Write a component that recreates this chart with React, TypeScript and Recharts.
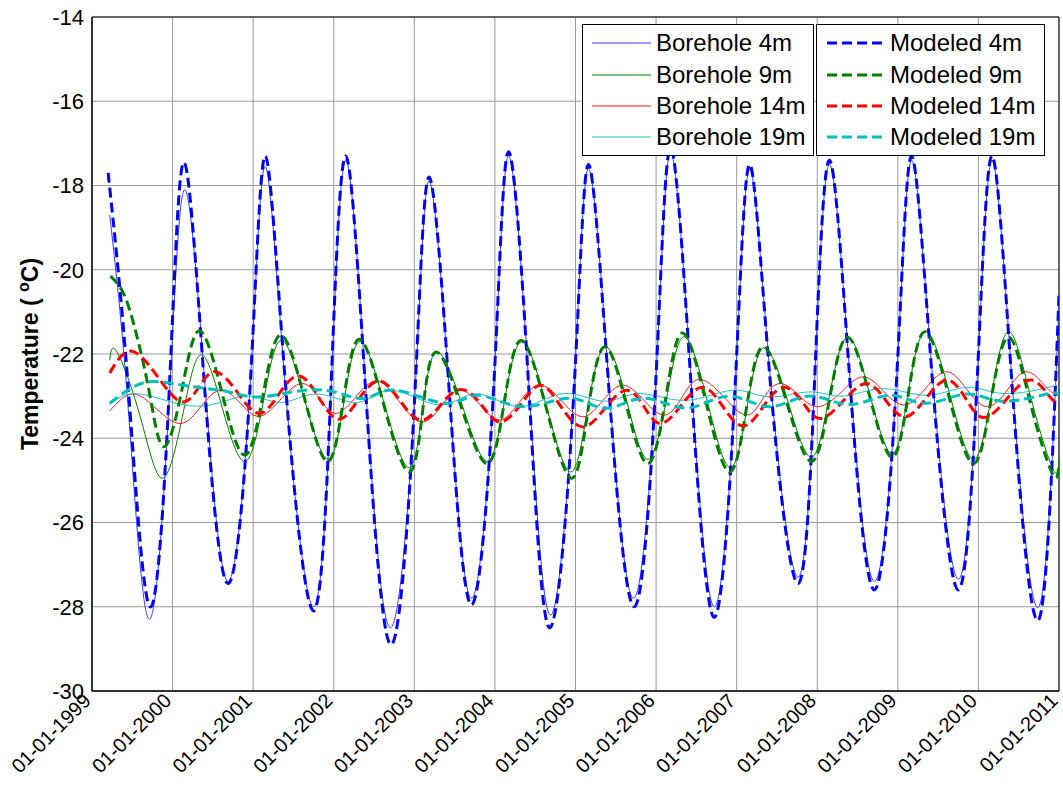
import React from "react"
import {
  LineChart,
  Line,
  XAxis,
  YAxis,
  CartesianGrid,
  ReferenceArea,
} from "recharts"

const FONT = "'Liberation Sans', Arial, Helvetica, sans-serif"

// x = decimal year, y = temperature (°C)
const years = [1999, 2000, 2001, 2002, 2003, 2004, 2005, 2006, 2007, 2008, 2009, 2010, 2011]
const tempTicks = [-30, -28, -26, -24, -22, -20, -18, -16, -14]

const borehole4m: [number, number][] = [
  [1999.22, -18.7], [1999.45, -23.3], [1999.71, -28.3], [1999.96, -23.0],
  [2000.15, -18.1], [2000.4, -22.7], [2000.69, -27.4], [2000.97, -22.5],
  [2001.15, -17.55], [2001.4, -22.8], [2001.75, -28.0], [2001.97, -22.7],
  [2002.15, -17.4], [2002.4, -22.9], [2002.7, -28.5], [2003.0, -23.2],
  [2003.18, -17.9], [2003.43, -22.8], [2003.71, -27.8], [2003.99, -22.6],
  [2004.17, -17.3], [2004.42, -22.7], [2004.69, -28.2], [2004.98, -22.8],
  [2005.16, -17.6], [2005.41, -22.6], [2005.72, -27.8], [2006.0, -22.5],
  [2006.18, -17.2], [2006.43, -22.5], [2006.72, -28.0], [2006.98, -22.8],
  [2007.16, -17.6], [2007.41, -22.4], [2007.76, -27.3], [2007.97, -22.5],
  [2008.15, -17.5], [2008.4, -22.4], [2008.71, -27.4], [2008.99, -22.4],
  [2009.17, -17.4], [2009.42, -22.3], [2009.75, -27.35], [2009.99, -22.4],
  [2010.17, -17.4], [2010.42, -22.7], [2010.75, -28.0], [2011.0, -20.8],
]

const borehole9m: [number, number][] = [
  [1999.22, -22.15], [1999.31, -21.95], [1999.6, -23.5], [1999.87, -24.95],
  [2000.12, -23.5], [2000.35, -22.02], [2000.62, -23.3], [2000.9, -24.55],
  [2001.13, -23.1], [2001.35, -21.67], [2001.64, -23.1], [2001.93, -24.5],
  [2002.13, -23.1], [2002.33, -21.7], [2002.63, -23.2], [2002.93, -24.7],
  [2003.1, -23.35], [2003.28, -21.95], [2003.6, -23.25], [2003.91, -24.55],
  [2004.12, -23.1], [2004.34, -21.7], [2004.64, -23.25], [2004.94, -24.8],
  [2005.15, -23.3], [2005.37, -21.83], [2005.64, -23.15], [2005.9, -24.5],
  [2006.13, -23.05], [2006.35, -21.59], [2006.64, -23.15], [2006.92, -24.7],
  [2007.13, -23.25], [2007.34, -21.85], [2007.64, -23.15], [2007.93, -24.45],
  [2008.15, -23.0], [2008.38, -21.6], [2008.65, -22.95], [2008.93, -24.37],
  [2009.13, -22.9], [2009.35, -21.47], [2009.65, -23.0], [2009.94, -24.5],
  [2010.16, -23.0], [2010.38, -21.47], [2010.66, -23.1], [2010.93, -24.75],
  [2011.0, -24.5],
]

const borehole14m: [number, number][] = [
  [1999.22, -23.35], [1999.5, -22.95], [1999.8, -23.3], [2000.1, -23.65],
  [2000.35, -23.25], [2000.59, -22.86], [2000.83, -23.15], [2001.07, -23.48],
  [2001.33, -23.1], [2001.6, -22.7], [2001.82, -23.05], [2002.03, -23.41],
  [2002.28, -23.0], [2002.54, -22.64], [2002.8, -23.1], [2003.08, -23.61],
  [2003.33, -23.25], [2003.56, -22.86], [2003.81, -23.2], [2004.06, -23.57],
  [2004.3, -23.15], [2004.55, -22.74], [2004.82, -23.1], [2005.09, -23.49],
  [2005.34, -23.1], [2005.59, -22.74], [2005.85, -23.1], [2006.11, -23.45],
  [2006.33, -23.0], [2006.54, -22.6], [2006.83, -23.0], [2007.12, -23.45],
  [2007.33, -23.05], [2007.54, -22.7], [2007.78, -23.0], [2008.02, -23.25],
  [2008.3, -22.9], [2008.57, -22.54], [2008.83, -22.9], [2009.09, -23.21],
  [2009.35, -22.8], [2009.61, -22.42], [2009.86, -22.85], [2010.11, -23.25],
  [2010.36, -22.85], [2010.6, -22.42], [2010.85, -22.8], [2011.0, -23.0],
]

const borehole19m: [number, number][] = [
  [1999.22, -23.19], [1999.6, -22.95], [2000.3, -23.24], [2000.9, -23.0],
  [2001.35, -23.15], [2001.8, -22.95], [2002.3, -23.15], [2002.73, -22.86],
  [2003.31, -23.21], [2003.77, -22.94], [2004.3, -23.25], [2004.84, -22.94],
  [2005.35, -23.12], [2005.79, -22.94], [2006.37, -23.1], [2006.95, -22.86],
  [2007.4, -23.02], [2007.91, -22.9], [2008.33, -23.0], [2008.82, -22.82],
  [2009.36, -22.98], [2009.86, -22.79], [2010.32, -22.94], [2010.98, -22.74],
]

const modeled4m: [number, number][] = [
  [1999.2, -17.7], [1999.45, -22.8], [1999.72, -28.0], [1999.96, -22.8],
  [2000.14, -17.45], [2000.39, -22.6], [2000.69, -27.45], [2000.97, -22.5],
  [2001.15, -17.3], [2001.4, -22.7], [2001.75, -28.1], [2001.97, -22.6],
  [2002.15, -17.3], [2002.4, -23.0], [2002.71, -28.9], [2003.0, -23.2],
  [2003.18, -17.8], [2003.43, -22.8], [2003.71, -27.95], [2003.99, -22.6],
  [2004.17, -17.2], [2004.42, -22.8], [2004.68, -28.5], [2004.98, -22.9],
  [2005.16, -17.5], [2005.41, -22.7], [2005.73, -28.0], [2006.0, -22.5],
  [2006.18, -17.1], [2006.43, -22.6], [2006.72, -28.25], [2006.98, -22.8],
  [2007.16, -17.5], [2007.41, -22.5], [2007.76, -27.45], [2007.97, -22.5],
  [2008.15, -17.4], [2008.4, -22.5], [2008.71, -27.6], [2008.99, -22.4],
  [2009.17, -17.3], [2009.42, -22.4], [2009.75, -27.6], [2009.99, -22.4],
  [2010.17, -17.3], [2010.42, -22.8], [2010.75, -28.3], [2011.0, -20.6],
]

const modeled9m: [number, number][] = [
  [1999.23, -20.15], [1999.4, -20.6], [1999.56, -21.6], [1999.72, -23.0], [1999.89, -24.2],
  [2000.11, -22.9], [2000.33, -21.45], [2000.61, -22.9], [2000.89, -24.4],
  [2001.12, -23.0], [2001.34, -21.55], [2001.63, -23.0], [2001.92, -24.55],
  [2002.12, -23.1], [2002.32, -21.65], [2002.62, -23.2], [2002.93, -24.8],
  [2003.1, -23.4], [2003.27, -21.95], [2003.59, -23.3], [2003.91, -24.6],
  [2004.12, -23.1], [2004.33, -21.68], [2004.64, -23.3], [2004.95, -24.95],
  [2005.15, -23.4], [2005.36, -21.83], [2005.63, -23.2], [2005.9, -24.6],
  [2006.12, -23.05], [2006.33, -21.5], [2006.62, -23.15], [2006.91, -24.8],
  [2007.12, -23.3], [2007.33, -21.83], [2007.63, -23.2], [2007.93, -24.55],
  [2008.15, -23.1], [2008.37, -21.6], [2008.65, -23.0], [2008.93, -24.45],
  [2009.13, -22.95], [2009.34, -21.47], [2009.64, -23.05], [2009.94, -24.6],
  [2010.16, -23.05], [2010.38, -21.6], [2010.65, -23.2], [2010.92, -24.85],
  [2011.0, -24.6],
]

const modeled14m: [number, number][] = [
  [1999.22, -22.45], [1999.48, -21.93], [1999.8, -22.5], [2000.1, -23.13],
  [2000.32, -22.8], [2000.53, -22.42], [2000.8, -22.9], [2001.07, -23.41],
  [2001.32, -22.95], [2001.57, -22.52], [2001.82, -23.05], [2002.06, -23.55],
  [2002.3, -23.1], [2002.56, -22.64], [2002.82, -23.1], [2003.08, -23.57],
  [2003.33, -23.2], [2003.58, -22.84], [2003.83, -23.2], [2004.06, -23.61],
  [2004.32, -23.2], [2004.57, -22.74], [2004.82, -23.25], [2005.09, -23.73],
  [2005.36, -23.3], [2005.63, -22.86], [2005.85, -23.25], [2006.06, -23.65],
  [2006.32, -23.2], [2006.58, -22.79], [2006.83, -23.25], [2007.08, -23.71],
  [2007.33, -23.25], [2007.58, -22.79], [2007.82, -23.15], [2008.04, -23.53],
  [2008.33, -23.1], [2008.61, -22.7], [2008.85, -23.1], [2009.09, -23.49],
  [2009.35, -23.05], [2009.61, -22.62], [2009.84, -23.05], [2010.07, -23.51],
  [2010.36, -23.05], [2010.65, -22.62], [2010.88, -23.0], [2011.0, -23.2],
]

const modeled19m: [number, number][] = [
  [1999.22, -23.17], [1999.45, -22.85], [1999.7, -22.66], [2000.0, -22.7],
  [2000.35, -22.8], [2000.7, -22.9], [2001.0, -23.02], [2001.35, -22.95],
  [2001.7, -22.85], [2002.05, -22.92], [2002.4, -23.05], [2002.77, -22.86],
  [2003.39, -23.17], [2003.8, -22.98], [2004.35, -23.25], [2004.93, -23.05],
  [2005.38, -23.29], [2005.85, -23.05], [2006.38, -23.28], [2006.9, -23.0],
  [2007.4, -23.25], [2007.9, -23.0], [2008.4, -23.2], [2008.9, -22.98],
  [2009.35, -23.17], [2009.85, -22.95], [2010.3, -23.12], [2010.85, -22.95],
  [2011.0, -22.98],
]

const toRows = (pts: [number, number][]) => pts.map(([t, v]) => ({ t, v }))

const series = [
  { name: "Borehole 4m", pts: borehole4m, color: "#3a3aff", dashed: false },
  { name: "Borehole 9m", pts: borehole9m, color: "#007f00", dashed: false },
  { name: "Borehole 14m", pts: borehole14m, color: "#ff1a1a", dashed: false },
  { name: "Borehole 19m", pts: borehole19m, color: "#1fc4c4", dashed: false },
  { name: "Modeled 4m", pts: modeled4m, color: "#0000ff", dashed: true },
  { name: "Modeled 9m", pts: modeled9m, color: "#007f00", dashed: true },
  { name: "Modeled 14m", pts: modeled14m, color: "#ff0000", dashed: true },
  { name: "Modeled 19m", pts: modeled19m, color: "#00bfbf", dashed: true },
]

const YearTick = (props: any) => {
  const { x, y, payload } = props
  const ex = x
  const ey = y + 3
  return (
    <text
      x={ex}
      y={ey}
      transform={`rotate(-45 ${ex} ${ey})`}
      textAnchor="end"
      fontSize={20}
      fontFamily={FONT}
      fill="#000"
    >
      {`01-01-${payload.value}`}
    </text>
  )
}

const YLabel = (props: any) => {
  const vb = props.viewBox || { y: 17, height: 674 }
  const cx = 38
  const cy = vb.y + vb.height / 2
  return (
    <text
      x={cx}
      y={cy}
      transform={`rotate(-90 ${cx} ${cy})`}
      textAnchor="middle"
      fontSize={23}
      fontWeight="bold"
      fontFamily={FONT}
      fill="#000"
    >
      {"Temperature ( "}
      <tspan dy={-9} fontSize={16}>o</tspan>
      <tspan dy={9}>C)</tspan>
    </text>
  )
}

function LegendBoxes() {
  const rows = [43, 75, 106, 137]
  const left = series.filter((s) => !s.dashed)
  const right = series.filter((s) => s.dashed)
  return (
    <svg
      width={1063}
      height={786}
      style={{ position: "absolute", left: 0, top: 0, pointerEvents: "none" }}
    >
      <rect x={582.5} y={24.5} width={231} height={131} fill="#fff" stroke="#000" />
      <rect x={816.5} y={24.5} width={228} height={131} fill="#fff" stroke="#000" />
      {left.map((s, i) => (
        <g key={s.name}>
          <line x1={592} x2={651} y1={rows[i]} y2={rows[i]} stroke={s.color} strokeWidth={1} />
          <text x={656} y={rows[i] + 8} fontSize={24} fontFamily={FONT} fill="#000">
            {s.name}
          </text>
        </g>
      ))}
      {right.map((s, i) => (
        <g key={s.name}>
          <line
            x1={827}
            x2={885}
            y1={rows[i]}
            y2={rows[i]}
            stroke={s.color}
            strokeWidth={3}
            strokeDasharray="10 5"
          />
          <text x={890} y={rows[i] + 8} fontSize={24} fontFamily={FONT} fill="#000">
            {s.name}
          </text>
        </g>
      ))}
    </svg>
  )
}

export default function App() {
  return (
    <div
      style={{
        position: "absolute",
        left: 0,
        top: 0,
        width: 1063,
        height: 786,
        background: "#fff",
        fontFamily: FONT,
      }}
    >
      <LineChart width={1063} height={786} margin={{ top: 17, right: 4, bottom: 0, left: 0 }}>
        <CartesianGrid stroke="#9a9a9a" strokeWidth={1} />
        <XAxis
          type="number"
          dataKey="t"
          domain={[1999, 2011]}
          ticks={years}
          interval={0}
          allowDataOverflow
          height={95}
          tick={<YearTick />}
          tickLine={false}
          axisLine={{ stroke: "#000" }}
        />
        <YAxis
          type="number"
          domain={[-30, -14]}
          ticks={tempTicks}
          interval={0}
          allowDataOverflow
          width={92}
          tickLine={false}
          axisLine={{ stroke: "#000" }}
          tick={{ fontSize: 22, fill: "#000", fontFamily: FONT }}
          label={<YLabel />}
        />
        <ReferenceArea
          x1={1999}
          x2={2011}
          y1={-30}
          y2={-14}
          fill="none"
          fillOpacity={0}
          stroke="#000"
          strokeOpacity={1}
        />
        {series.map((s) => (
          <Line
            key={s.name}
            name={s.name}
            data={toRows(s.pts)}
            dataKey="v"
            type="natural"
            stroke={s.color}
            strokeWidth={s.dashed ? 3 : 1}
            strokeDasharray={s.dashed ? "10 5" : undefined}
            dot={false}
            activeDot={false}
            isAnimationActive={false}
          />
        ))}
      </LineChart>
      <LegendBoxes />
    </div>
  )
}
